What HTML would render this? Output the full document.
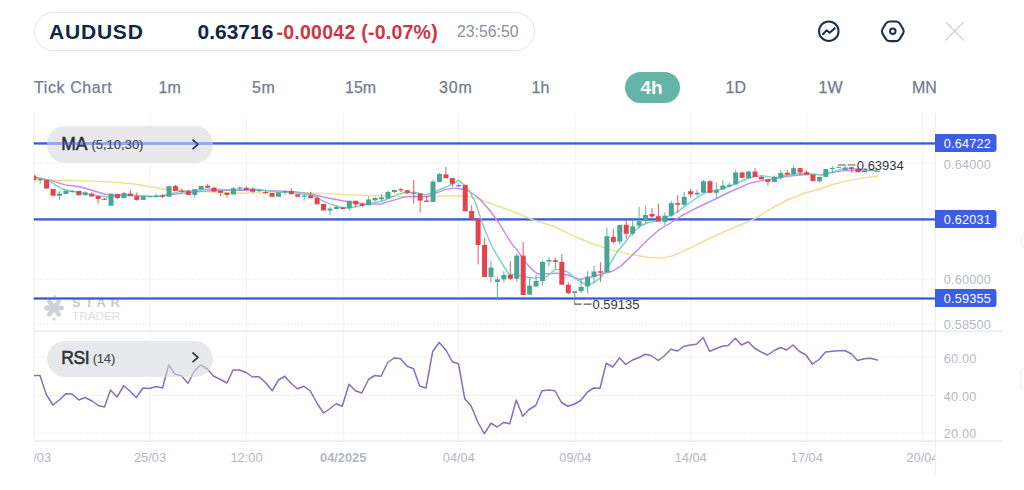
<!DOCTYPE html>
<html><head><meta charset="utf-8">
<style>
html,body{margin:0;padding:0;background:#fff;}
body{width:1024px;height:490px;position:relative;overflow:hidden;font-family:"Liberation Sans",sans-serif;}
.abs{position:absolute;white-space:nowrap;}
.pill{position:absolute;left:33.5px;top:12px;width:499px;height:37px;border:1px solid #e4e6ea;border-radius:20px;box-sizing:content-box;}
.tf{position:absolute;top:79px;font-size:16px;color:#747b8a;line-height:18px;-webkit-text-stroke:0.25px #747b8a;}
.ind{position:absolute;left:46.75px;width:166.25px;height:36.25px;border-radius:18px;background:#e8e9ec;}
.ind .t{position:absolute;left:14.5px;top:7.3px;font-size:17.5px;font-weight:normal;-webkit-text-stroke:0.55px #2f3135;color:#2f3135;line-height:20px;}
.ind .t span{font-size:13px;font-weight:normal;color:#45484d;-webkit-text-stroke:0.15px #45484d;position:relative;top:-0.6px;}
</style></head><body>
<div class="pill"></div>
<div class="abs" style="left:49px;top:20px;font-size:21px;font-weight:bold;color:#16244a;line-height:24px;letter-spacing:0.8px">AUDUSD</div>
<div class="abs" style="left:197.5px;top:20px;font-size:21px;font-weight:bold;color:#16244a;line-height:24px;">0.63716</div>
<div class="abs" style="left:276.5px;top:20px;font-size:19.5px;font-weight:bold;color:#cf3545;line-height:24px;letter-spacing:0.25px">-0.00042 (-0.07%)</div>
<div class="abs" style="left:457px;top:21px;font-size:15.8px;color:#8b909a;line-height:22px;">23:56:50</div>

<svg class="abs" style="left:0;top:0" width="1024" height="60">
<circle cx="828.8" cy="31.15" r="9.75" fill="none" stroke="#1e2d4d" stroke-width="2"/>
<path d="M822.9 34.3 L826.6 30.4 L829.7 32.7 L834.8 28.3" fill="none" stroke="#1e2d4d" stroke-width="2" stroke-linecap="round" stroke-linejoin="round"/>
<path d="M882.44 33.36 Q881.20 31.30 882.44 29.24 L885.86 23.56 Q887.10 21.50 889.50 21.50 L896.10 21.50 Q898.50 21.50 899.74 23.56 L903.16 29.24 Q904.40 31.30 903.16 33.36 L899.74 39.04 Q898.50 41.10 896.10 41.10 L889.50 41.10 Q887.10 41.10 885.86 39.04 Z" fill="none" stroke="#1e2d4d" stroke-width="2.1" stroke-linejoin="round"/>
<circle cx="892.8" cy="31.25" r="2.75" fill="none" stroke="#1e2d4d" stroke-width="2"/>
<path d="M945.8 22.3 L963.5 40 M963.5 22.3 L945.8 40" stroke="#d2d5da" stroke-width="1.5" stroke-linecap="round"/>
</svg>

<div class="tf" style="left:34px;letter-spacing:0.6px">Tick Chart</div>
<div class="tf" style="left:158.5px">1m</div>
<div class="tf" style="left:252px;letter-spacing:0.5px">5m</div>
<div class="tf" style="left:345px">15m</div>
<div class="tf" style="left:439px;letter-spacing:0.8px">30m</div>
<div class="tf" style="left:531.5px">1h</div>
<div class="abs" style="left:624.7px;top:72px;width:55px;height:31px;border-radius:15.5px;background:#64b4a9;"></div>
<div class="tf" style="left:640.5px;color:#fff;-webkit-text-stroke:0;font-size:19px;font-weight:bold;top:78px;line-height:20px">4h</div>
<div class="tf" style="left:725.5px">1D</div>
<div class="tf" style="left:818.5px">1W</div>
<div class="tf" style="left:912px">MN</div>

<svg class="abs" style="left:0;top:0" width="1024" height="490">
<defs><clipPath id="cp"><rect x="34" y="113" width="901" height="218"/></clipPath><clipPath id="cr"><rect x="34" y="331" width="901" height="110"/></clipPath></defs>
<rect x="149.5" y="113" width="1" height="328" fill="#f2f3f5"/>
<rect x="246" y="113" width="1" height="328" fill="#f2f3f5"/>
<rect x="342.8" y="113" width="1" height="328" fill="#f2f3f5"/>
<rect x="458.2" y="113" width="1" height="328" fill="#f2f3f5"/>
<rect x="574.7" y="113" width="1" height="328" fill="#f2f3f5"/>
<rect x="690.4" y="113" width="1" height="328" fill="#f2f3f5"/>
<rect x="806.5" y="113" width="1" height="328" fill="#f2f3f5"/>
<rect x="922" y="113" width="1" height="328" fill="#f2f3f5"/>
<rect x="33.5" y="113" width="1" height="328" fill="#eceef1"/>
<rect x="935" y="113" width="1" height="361" fill="#eceef1"/>
<line x1="34" y1="163.1" x2="935" y2="163.1" stroke="#e3e6ea" stroke-width="1" stroke-dasharray="1.5,1.6"/>
<line x1="34" y1="279.1" x2="935" y2="279.1" stroke="#e3e6ea" stroke-width="1" stroke-dasharray="1.5,1.6"/>
<line x1="34" y1="324" x2="935" y2="324" stroke="#e3e6ea" stroke-width="1" stroke-dasharray="1.5,1.6"/>
<line x1="34" y1="357" x2="935" y2="357" stroke="#e3e6ea" stroke-width="1" stroke-dasharray="1.5,1.6"/>
<line x1="34" y1="395.5" x2="935" y2="395.5" stroke="#e3e6ea" stroke-width="1" stroke-dasharray="1.5,1.6"/>
<line x1="34" y1="433" x2="935" y2="433" stroke="#e3e6ea" stroke-width="1" stroke-dasharray="1.5,1.6"/>
<rect x="34" y="330.5" width="968" height="1.2" fill="#e3e5e9"/>
<rect x="34" y="440.5" width="968" height="1.2" fill="#e3e5e9"/>
<g fill="#cfd3d9">
<g transform="translate(54,308)">
<rect x="-2.3" y="-10.2" width="4.6" height="20.4" rx="2.3" transform="rotate(36)"/>
<rect x="-2.3" y="-10.2" width="4.6" height="20.4" rx="2.3" transform="rotate(-36)"/>
<rect x="-10" y="-2.4" width="20" height="4.8" rx="2.4"/>
<circle cx="0.5" cy="-11.5" r="1.4"/><circle cx="0" cy="11" r="1.6"/>
</g></g>
<text x="72" y="307" font-family="Liberation Sans" font-weight="bold" font-size="12.8" letter-spacing="4.6" fill="#c6cad1">STAR</text>
<text x="72" y="320" font-family="Liberation Sans" font-size="11.7" letter-spacing="0.05" fill="#dcdfe4">TRADER</text>
<rect x="33.75" y="142.3" width="902" height="2.3" fill="#3a5ad9"/>
<rect x="33.75" y="218.25" width="902" height="2.3" fill="#3a5ad9"/>
<rect x="33.75" y="297.35" width="902" height="2.3" fill="#3a5ad9"/>
<g clip-path="url(#cp)">
<polyline fill="none" stroke="#eee08e" stroke-width="1.45" stroke-linejoin="round" stroke-linecap="round"  points="33.75,180.5 48.75,180.5 67.5,180.25 92.5,181.1 117.5,182.4 136.25,184.25 154,187.4 164,189 179,190.25 204,191.5 229,192.75 241.5,193.25 260.25,192.75 280,191.5 303,192.75 328,193.6 353,194.9 378,195.75 402,196.5 427,196.9 439.5,196.25 458.25,195.6 470.75,196.9 483.25,200.6 502,207.5 518,213.5 535,220.6 553.75,226.25 572.5,235.6 592.5,243.75 611.25,250 630,254.4 648.75,257.5 661.25,258.1 673.75,255.6 692.5,246.9 706.25,240 728,230 752.5,220 768.75,210 787.5,199.75 806.25,192.75 816.4,190 832.8,184.5 849.2,180.4 865.6,177.6 877.7,176.3"/>
<polyline fill="none" stroke="#c689ee" stroke-width="1.45" stroke-linejoin="round" stroke-linecap="round"  points="33.75,177 36.25,177.4 48.75,179.9 65,184.9 80,186.75 92.5,190.5 105,194.25 111.25,194.9 130,194.9 156,196.6 179,193.6 204,191.1 229,190.25 254,190.25 282,191.1 290.5,191.5 309.25,193.6 328,198 346.75,201.5 365.5,204 380.5,204 390.5,201.1 404,197.1 414.5,196.25 427,196.9 435.75,193.1 445.75,189.4 455.75,188.1 462,189 469.5,191.25 479.5,198.75 489.5,210 495.75,218.75 498.75,222.5 506.25,235 511.25,243.1 517.5,250.6 525,261.8 531.25,268.75 537.5,273.75 547.5,273.75 557.5,273.1 567.5,275 580,279.4 592.5,276.9 605,273.1 612.5,271.25 621.25,265.6 632.5,255 640,247.5 647.5,240 658.75,230 671.25,222.5 681.25,216 693.75,209.4 703.75,204.5 716,198.75 731.25,191.25 750,183.1 762.5,180.6 775,178.75 787.5,176.25 800,175 812.5,174.4 821.9,174.6 832.8,172.4 843.8,170.6 860.2,170.2 876.6,170.6"/>
<polyline fill="none" stroke="#74d5c8" stroke-width="1.45" stroke-linejoin="round" stroke-linecap="round"  points="33.75,177.5 36.25,178 48.75,180.5 61.25,188.6 72.5,191.5 86.25,193.6 98.75,195.75 107.5,197 117.5,196.1 130,195.25 142.5,196.1 156,196.5 166.5,194.9 179,191.75 195.25,190.5 207.75,189 222.75,189.5 235.25,189.9 254,189 266.5,190.5 280,192 296.75,193 313,195.5 325.5,202.4 338,206.75 348,208 359.25,206.1 369.25,203.6 384.25,200.5 396.75,194.9 404,192.75 414.5,192.25 425.75,195 435.75,191.25 446.9,186.6 455.9,182.1 458.4,180.1 462.8,183.6 469.3,191.2 475.6,203 480.75,218.75 485,230 491.25,245 497.5,256.25 503.75,266.25 509,274.5 515,274.4 527.5,277.25 535,278.1 541.25,276.9 547.5,276.25 555,269.4 560,269.75 567.5,271.9 576.25,279.4 587.5,285.6 595,281.9 601.9,276.25 610,263.75 617.5,251.25 625,242.5 632.5,232.5 640,226.25 648.75,222.25 656.25,221.25 667.5,216.9 677.5,211.9 690,202.5 700,195.6 707,192.2 718.75,190 731.25,185.6 743.75,180 753.75,176.9 761.25,175.6 770,176.9 777.5,177.5 787.5,175 795,174 807.5,173.5 818.75,174.6 822,175.2 830.6,172.4 841.6,169.1 852.5,168.6 865.6,169.5 876.6,170.2"/>
<g><rect x="33.2" y="173.6" width="1.1" height="10" fill="#e2434f" fill-opacity="0.8"/><rect x="31.25" y="175.5" width="5" height="4.4" fill="#e2434f"/>
<rect x="39.64" y="177.4" width="1.1" height="6.2" fill="#4aa597" fill-opacity="0.8"/><rect x="37.69" y="179" width="5" height="1" fill="#4aa597"/>
<rect x="44.13" y="179.9" width="5" height="8.7" fill="#e2434f"/>
<rect x="50.57" y="189" width="5" height="6.75" fill="#e2434f"/>
<rect x="58.96" y="191.1" width="1.1" height="8.8" fill="#4aa597" fill-opacity="0.8"/><rect x="57.01" y="193.6" width="5" height="2.15" fill="#4aa597"/>
<rect x="63.45" y="190.5" width="5" height="3.5" fill="#4aa597"/>
<rect x="71.84" y="189.9" width="1.1" height="2.5" fill="#4aa597" fill-opacity="0.8"/><rect x="69.89" y="190.9" width="5" height="1.1" fill="#4aa597"/>
<rect x="76.33" y="190.9" width="5" height="4.35" fill="#e2434f"/>
<rect x="84.72" y="191.1" width="1.1" height="4.15" fill="#4aa597" fill-opacity="0.8"/><rect x="82.77" y="192.4" width="5" height="2.85" fill="#4aa597"/>
<rect x="91.16" y="192.4" width="1.1" height="4.1" fill="#e2434f" fill-opacity="0.8"/><rect x="89.21" y="193.6" width="5" height="2.9" fill="#e2434f"/>
<rect x="97.6" y="196.1" width="1.1" height="7.5" fill="#e2434f" fill-opacity="0.8"/><rect x="95.65" y="196.1" width="5" height="2.9" fill="#e2434f"/>
<rect x="104.04" y="198" width="1.1" height="1.9" fill="#e2434f" fill-opacity="0.8"/><rect x="102.09" y="198.75" width="5" height="1" fill="#e2434f"/>
<rect x="108.53" y="193.6" width="5" height="12.15" fill="#4aa597"/>
<rect x="116.92" y="194" width="1.1" height="5" fill="#e2434f" fill-opacity="0.8"/><rect x="114.97" y="194" width="5" height="4" fill="#e2434f"/>
<rect x="123.36" y="192" width="1.1" height="6" fill="#4aa597" fill-opacity="0.8"/><rect x="121.41" y="193" width="5" height="5" fill="#4aa597"/>
<rect x="129.8" y="190.25" width="1.1" height="5.85" fill="#e2434f" fill-opacity="0.8"/><rect x="127.85" y="193.6" width="5" height="2.5" fill="#e2434f"/>
<rect x="136.24" y="192.4" width="1.1" height="8.35" fill="#e2434f" fill-opacity="0.8"/><rect x="134.29" y="196.1" width="5" height="3.8" fill="#e2434f"/>
<rect x="140.73" y="196.1" width="5" height="3.8" fill="#4aa597"/>
<rect x="147.17" y="196.25" width="5" height="1" fill="#4aa597"/>
<rect x="155.56" y="193.6" width="1.1" height="3.4" fill="#4aa597" fill-opacity="0.8"/><rect x="153.61" y="195.75" width="5" height="1.25" fill="#4aa597"/>
<rect x="162" y="194.25" width="1.1" height="3.75" fill="#e2434f" fill-opacity="0.8"/><rect x="160.05" y="195.5" width="5" height="1.25" fill="#e2434f"/>
<rect x="166.49" y="186.1" width="5" height="10.65" fill="#4aa597"/>
<rect x="174.88" y="184.9" width="1.1" height="5.85" fill="#e2434f" fill-opacity="0.8"/><rect x="172.93" y="186.1" width="5" height="4.65" fill="#e2434f"/>
<rect x="181.32" y="188.6" width="1.1" height="4.15" fill="#e2434f" fill-opacity="0.8"/><rect x="179.37" y="190.5" width="5" height="1.25" fill="#e2434f"/>
<rect x="187.76" y="189.5" width="1.1" height="5.4" fill="#e2434f" fill-opacity="0.8"/><rect x="185.81" y="191.1" width="5" height="3.8" fill="#e2434f"/>
<rect x="194.2" y="189.25" width="1.1" height="8.5" fill="#4aa597" fill-opacity="0.8"/><rect x="192.25" y="189.25" width="5" height="5.65" fill="#4aa597"/>
<rect x="198.69" y="185.9" width="5" height="3.6" fill="#4aa597"/>
<rect x="207.08" y="183.6" width="1.1" height="4.15" fill="#e2434f" fill-opacity="0.8"/><rect x="205.13" y="185.75" width="5" height="2" fill="#e2434f"/>
<rect x="213.52" y="186.75" width="1.1" height="4.75" fill="#e2434f" fill-opacity="0.8"/><rect x="211.57" y="187.75" width="5" height="3.75" fill="#e2434f"/>
<rect x="219.96" y="190.75" width="1.1" height="5.35" fill="#e2434f" fill-opacity="0.8"/><rect x="218.01" y="190.75" width="5" height="2" fill="#e2434f"/>
<rect x="226.4" y="192.75" width="1.1" height="5" fill="#e2434f" fill-opacity="0.8"/><rect x="224.45" y="192.75" width="5" height="2.15" fill="#e2434f"/>
<rect x="232.84" y="186.75" width="1.1" height="7.75" fill="#4aa597" fill-opacity="0.8"/><rect x="230.89" y="188.25" width="5" height="6.25" fill="#4aa597"/>
<rect x="239.28" y="186.5" width="1.1" height="4.6" fill="#4aa597" fill-opacity="0.8"/><rect x="237.33" y="187.4" width="5" height="1.2" fill="#4aa597"/>
<rect x="245.72" y="186.5" width="1.1" height="3.4" fill="#e2434f" fill-opacity="0.8"/><rect x="243.77" y="187.75" width="5" height="2.15" fill="#e2434f"/>
<rect x="252.16" y="187.4" width="1.1" height="5.35" fill="#e2434f" fill-opacity="0.8"/><rect x="250.21" y="189" width="5" height="2.75" fill="#e2434f"/>
<rect x="258.6" y="189.25" width="1.1" height="2.75" fill="#4aa597" fill-opacity="0.8"/><rect x="256.65" y="189.9" width="5" height="1.2" fill="#4aa597"/>
<rect x="265.04" y="190.75" width="1.1" height="3.5" fill="#e2434f" fill-opacity="0.8"/><rect x="263.09" y="192" width="5" height="1" fill="#e2434f"/>
<rect x="269.53" y="193" width="5" height="3.75" fill="#e2434f"/>
<rect x="275.97" y="192.4" width="5" height="4.35" fill="#4aa597"/>
<rect x="284.36" y="190.25" width="1.1" height="4.65" fill="#4aa597" fill-opacity="0.8"/><rect x="282.41" y="191.1" width="5" height="1.3" fill="#4aa597"/>
<rect x="290.8" y="188.25" width="1.1" height="6" fill="#e2434f" fill-opacity="0.8"/><rect x="288.85" y="191.1" width="5" height="3.15" fill="#e2434f"/>
<rect x="295.29" y="194.25" width="5" height="2.5" fill="#e2434f"/>
<rect x="303.68" y="194.9" width="1.1" height="5.6" fill="#4aa597" fill-opacity="0.8"/><rect x="301.73" y="195.5" width="5" height="1.25" fill="#4aa597"/>
<rect x="310.12" y="191.75" width="1.1" height="6.5" fill="#e2434f" fill-opacity="0.8"/><rect x="308.17" y="195.5" width="5" height="2.75" fill="#e2434f"/>
<rect x="316.56" y="195.5" width="1.1" height="8.75" fill="#e2434f" fill-opacity="0.8"/><rect x="314.61" y="198" width="5" height="6.25" fill="#e2434f"/>
<rect x="321.05" y="204" width="5" height="6.5" fill="#e2434f"/>
<rect x="329.44" y="206.75" width="1.1" height="8.15" fill="#4aa597" fill-opacity="0.8"/><rect x="327.49" y="208.6" width="5" height="1.9" fill="#4aa597"/>
<rect x="335.88" y="205.25" width="1.1" height="3.75" fill="#4aa597" fill-opacity="0.8"/><rect x="333.93" y="207" width="5" height="2" fill="#4aa597"/>
<rect x="342.32" y="207.4" width="1.1" height="2.1" fill="#e2434f" fill-opacity="0.8"/><rect x="340.37" y="207.4" width="5" height="1.6" fill="#e2434f"/>
<rect x="348.76" y="200.75" width="1.1" height="10" fill="#4aa597" fill-opacity="0.8"/><rect x="346.81" y="200.75" width="5" height="7.5" fill="#4aa597"/>
<rect x="355.2" y="200.75" width="1.1" height="6.65" fill="#e2434f" fill-opacity="0.8"/><rect x="353.25" y="200.75" width="5" height="3.75" fill="#e2434f"/>
<rect x="361.64" y="202.75" width="1.1" height="4.65" fill="#e2434f" fill-opacity="0.8"/><rect x="359.69" y="204" width="5" height="1.75" fill="#e2434f"/>
<rect x="368.08" y="196.5" width="1.1" height="8.75" fill="#4aa597" fill-opacity="0.8"/><rect x="366.13" y="199.5" width="5" height="5.75" fill="#4aa597"/>
<rect x="374.52" y="196.75" width="1.1" height="5" fill="#4aa597" fill-opacity="0.8"/><rect x="372.57" y="198" width="5" height="2.25" fill="#4aa597"/>
<rect x="380.96" y="194" width="1.1" height="7.1" fill="#4aa597" fill-opacity="0.8"/><rect x="379.01" y="197.4" width="5" height="1.85" fill="#4aa597"/>
<rect x="387.4" y="190.5" width="1.1" height="8.1" fill="#4aa597" fill-opacity="0.8"/><rect x="385.45" y="192" width="5" height="6.6" fill="#4aa597"/>
<rect x="393.84" y="189.9" width="1.1" height="3.35" fill="#4aa597" fill-opacity="0.8"/><rect x="391.89" y="189.9" width="5" height="2.1" fill="#4aa597"/>
<rect x="400.28" y="187.75" width="1.1" height="4.25" fill="#e2434f" fill-opacity="0.8"/><rect x="398.33" y="189.25" width="5" height="1.25" fill="#e2434f"/>
<rect x="406.72" y="190.25" width="1.1" height="3.5" fill="#e2434f" fill-opacity="0.8"/><rect x="404.77" y="190.25" width="5" height="2.85" fill="#e2434f"/>
<rect x="413.16" y="180" width="1.1" height="23.75" fill="#e2434f" fill-opacity="0.8"/><rect x="411.21" y="192.75" width="5" height="1" fill="#e2434f"/>
<rect x="419.6" y="193.5" width="1.1" height="19" fill="#e2434f" fill-opacity="0.8"/><rect x="417.65" y="193.5" width="5" height="7.1" fill="#e2434f"/>
<rect x="426.04" y="195.6" width="1.1" height="6.3" fill="#e2434f" fill-opacity="0.8"/><rect x="424.09" y="200.6" width="5" height="1.3" fill="#e2434f"/>
<rect x="432.48" y="180" width="1.1" height="21.9" fill="#4aa597" fill-opacity="0.8"/><rect x="430.53" y="181.5" width="5" height="20.4" fill="#4aa597"/>
<rect x="438.92" y="173.1" width="1.1" height="9.5" fill="#4aa597" fill-opacity="0.8"/><rect x="436.97" y="174" width="5" height="7.9" fill="#4aa597"/>
<rect x="445.36" y="166.9" width="1.1" height="11.6" fill="#e2434f" fill-opacity="0.8"/><rect x="443.41" y="174.4" width="5" height="3.7" fill="#e2434f"/>
<rect x="451.8" y="178.1" width="1.1" height="8.8" fill="#e2434f" fill-opacity="0.8"/><rect x="449.85" y="178.1" width="5" height="5.65" fill="#e2434f"/>
<rect x="458.24" y="183.1" width="1.1" height="3.4" fill="#4aa597" fill-opacity="0.8"/><rect x="456.29" y="185" width="5" height="1.5" fill="#4aa597"/>
<rect x="462.73" y="184.75" width="5" height="26.5" fill="#e2434f"/>
<rect x="471.12" y="205.25" width="1.1" height="13.5" fill="#e2434f" fill-opacity="0.8"/><rect x="469.17" y="211" width="5" height="7.75" fill="#e2434f"/>
<rect x="477.56" y="218.75" width="1.1" height="45.65" fill="#e2434f" fill-opacity="0.8"/><rect x="475.61" y="218.75" width="5" height="26.25" fill="#e2434f"/>
<rect x="484" y="238.1" width="1.1" height="38.8" fill="#e2434f" fill-opacity="0.8"/><rect x="482.05" y="245" width="5" height="31.9" fill="#e2434f"/>
<rect x="490.44" y="260.6" width="1.1" height="21.9" fill="#4aa597" fill-opacity="0.8"/><rect x="488.49" y="267.5" width="5" height="9.4" fill="#4aa597"/>
<rect x="496.88" y="276.9" width="1.1" height="21.85" fill="#4aa597" fill-opacity="0.8"/><rect x="494.93" y="279.4" width="5" height="2.5" fill="#4aa597"/>
<rect x="503.32" y="271.25" width="1.1" height="11.25" fill="#4aa597" fill-opacity="0.8"/><rect x="501.37" y="275" width="5" height="4.4" fill="#4aa597"/>
<rect x="509.76" y="261.25" width="1.1" height="18.75" fill="#e2434f" fill-opacity="0.8"/><rect x="507.81" y="275" width="5" height="3.75" fill="#e2434f"/>
<rect x="516.2" y="253.1" width="1.1" height="28.8" fill="#4aa597" fill-opacity="0.8"/><rect x="514.25" y="255.6" width="5" height="23.15" fill="#4aa597"/>
<rect x="522.64" y="241.9" width="1.1" height="53.1" fill="#e2434f" fill-opacity="0.8"/><rect x="520.69" y="255.6" width="5" height="39.4" fill="#e2434f"/>
<rect x="529.08" y="277.5" width="1.1" height="17.25" fill="#4aa597" fill-opacity="0.8"/><rect x="527.13" y="285.6" width="5" height="9.15" fill="#4aa597"/>
<rect x="535.52" y="274.4" width="1.1" height="12.1" fill="#4aa597" fill-opacity="0.8"/><rect x="533.57" y="281" width="5" height="5.5" fill="#4aa597"/>
<rect x="541.96" y="260.6" width="1.1" height="25" fill="#4aa597" fill-opacity="0.8"/><rect x="540.01" y="261.9" width="5" height="19.1" fill="#4aa597"/>
<rect x="548.4" y="257.25" width="1.1" height="9" fill="#4aa597" fill-opacity="0.8"/><rect x="546.45" y="260" width="5" height="1.5" fill="#4aa597"/>
<rect x="554.84" y="258.1" width="1.1" height="10.65" fill="#e2434f" fill-opacity="0.8"/><rect x="552.89" y="260.25" width="5" height="1.65" fill="#e2434f"/>
<rect x="561.28" y="254" width="1.1" height="30.75" fill="#e2434f" fill-opacity="0.8"/><rect x="559.33" y="261.9" width="5" height="22.85" fill="#e2434f"/>
<rect x="567.72" y="281.9" width="1.1" height="12.5" fill="#e2434f" fill-opacity="0.8"/><rect x="565.77" y="284.75" width="5" height="8.35" fill="#e2434f"/>
<rect x="574.16" y="291.25" width="1.1" height="13.15" fill="#4aa597" fill-opacity="0.8"/><rect x="572.21" y="291.25" width="5" height="1.85" fill="#4aa597"/>
<rect x="580.6" y="278.75" width="1.1" height="14.35" fill="#4aa597" fill-opacity="0.8"/><rect x="578.65" y="286.9" width="5" height="4.35" fill="#4aa597"/>
<rect x="587.04" y="271.25" width="1.1" height="22.25" fill="#4aa597" fill-opacity="0.8"/><rect x="585.09" y="276.6" width="5" height="9.9" fill="#4aa597"/>
<rect x="593.48" y="265.6" width="1.1" height="17.5" fill="#4aa597" fill-opacity="0.8"/><rect x="591.53" y="271.5" width="5" height="5.4" fill="#4aa597"/>
<rect x="599.92" y="262.25" width="1.1" height="19.65" fill="#e2434f" fill-opacity="0.8"/><rect x="597.97" y="271.25" width="5" height="1.5" fill="#e2434f"/>
<rect x="606.36" y="227.5" width="1.1" height="44.75" fill="#4aa597" fill-opacity="0.8"/><rect x="604.41" y="236.25" width="5" height="36" fill="#4aa597"/>
<rect x="612.8" y="229" width="1.1" height="14.75" fill="#e2434f" fill-opacity="0.8"/><rect x="610.85" y="236.9" width="5" height="5" fill="#e2434f"/>
<rect x="619.24" y="225" width="1.1" height="19.4" fill="#4aa597" fill-opacity="0.8"/><rect x="617.29" y="225" width="5" height="16.5" fill="#4aa597"/>
<rect x="625.68" y="220" width="1.1" height="18.75" fill="#e2434f" fill-opacity="0.8"/><rect x="623.73" y="224.75" width="5" height="9" fill="#e2434f"/>
<rect x="632.12" y="217.75" width="1.1" height="17.85" fill="#4aa597" fill-opacity="0.8"/><rect x="630.17" y="226.25" width="5" height="7.5" fill="#4aa597"/>
<rect x="638.56" y="206.9" width="1.1" height="21.85" fill="#4aa597" fill-opacity="0.8"/><rect x="636.61" y="221.25" width="5" height="4.35" fill="#4aa597"/>
<rect x="645" y="206.25" width="1.1" height="17.5" fill="#4aa597" fill-opacity="0.8"/><rect x="643.05" y="215" width="5" height="6" fill="#4aa597"/>
<rect x="651.44" y="208.1" width="1.1" height="10.4" fill="#e2434f" fill-opacity="0.8"/><rect x="649.49" y="214" width="5" height="2.5" fill="#e2434f"/>
<rect x="657.88" y="203.5" width="1.1" height="18" fill="#e2434f" fill-opacity="0.8"/><rect x="655.93" y="216.25" width="5" height="5.25" fill="#e2434f"/>
<rect x="664.32" y="212.5" width="1.1" height="12.75" fill="#4aa597" fill-opacity="0.8"/><rect x="662.37" y="215.6" width="5" height="6.3" fill="#4aa597"/>
<rect x="670.76" y="201" width="1.1" height="15.9" fill="#4aa597" fill-opacity="0.8"/><rect x="668.81" y="203.1" width="5" height="12.5" fill="#4aa597"/>
<rect x="677.2" y="195.25" width="1.1" height="17.85" fill="#e2434f" fill-opacity="0.8"/><rect x="675.25" y="203.1" width="5" height="1.65" fill="#e2434f"/>
<rect x="683.64" y="191.9" width="1.1" height="14.35" fill="#4aa597" fill-opacity="0.8"/><rect x="681.69" y="196.9" width="5" height="7.85" fill="#4aa597"/>
<rect x="690.08" y="188.75" width="1.1" height="8.75" fill="#e2434f" fill-opacity="0.8"/><rect x="688.13" y="191.25" width="5" height="3.15" fill="#e2434f"/>
<rect x="696.52" y="189.5" width="1.1" height="6.75" fill="#4aa597" fill-opacity="0.8"/><rect x="694.57" y="192.75" width="5" height="1.65" fill="#4aa597"/>
<rect x="702.96" y="180" width="1.1" height="12.75" fill="#4aa597" fill-opacity="0.8"/><rect x="701.01" y="181.25" width="5" height="11.5" fill="#4aa597"/>
<rect x="709.4" y="180" width="1.1" height="12.75" fill="#e2434f" fill-opacity="0.8"/><rect x="707.45" y="181.25" width="5" height="11.5" fill="#e2434f"/>
<rect x="715.84" y="182.25" width="1.1" height="15.85" fill="#4aa597" fill-opacity="0.8"/><rect x="713.89" y="189.75" width="5" height="3" fill="#4aa597"/>
<rect x="722.28" y="180.25" width="1.1" height="9.15" fill="#4aa597" fill-opacity="0.8"/><rect x="720.33" y="185.6" width="5" height="3.8" fill="#4aa597"/>
<rect x="728.72" y="182.5" width="1.1" height="5" fill="#4aa597" fill-opacity="0.8"/><rect x="726.77" y="184.75" width="5" height="1.75" fill="#4aa597"/>
<rect x="735.16" y="169.75" width="1.1" height="14.65" fill="#4aa597" fill-opacity="0.8"/><rect x="733.21" y="172.5" width="5" height="11.9" fill="#4aa597"/>
<rect x="741.6" y="171.5" width="1.1" height="7" fill="#e2434f" fill-opacity="0.8"/><rect x="739.65" y="172.5" width="5" height="5.25" fill="#e2434f"/>
<rect x="748.04" y="170.6" width="1.1" height="7.5" fill="#4aa597" fill-opacity="0.8"/><rect x="746.09" y="171.5" width="5" height="6.6" fill="#4aa597"/>
<rect x="754.48" y="168.1" width="1.1" height="8.8" fill="#e2434f" fill-opacity="0.8"/><rect x="752.53" y="171.5" width="5" height="5.4" fill="#e2434f"/>
<rect x="760.92" y="175.6" width="1.1" height="3.8" fill="#e2434f" fill-opacity="0.8"/><rect x="758.97" y="176.9" width="5" height="2.5" fill="#e2434f"/>
<rect x="767.36" y="178.5" width="1.1" height="7.1" fill="#e2434f" fill-opacity="0.8"/><rect x="765.41" y="179.4" width="5" height="2.5" fill="#e2434f"/>
<rect x="773.8" y="175.6" width="1.1" height="6.3" fill="#4aa597" fill-opacity="0.8"/><rect x="771.85" y="176.9" width="5" height="5" fill="#4aa597"/>
<rect x="780.24" y="170.25" width="1.1" height="9.5" fill="#4aa597" fill-opacity="0.8"/><rect x="778.29" y="173.1" width="5" height="4.4" fill="#4aa597"/>
<rect x="786.68" y="169.75" width="1.1" height="5" fill="#e2434f" fill-opacity="0.8"/><rect x="784.73" y="172.75" width="5" height="2" fill="#e2434f"/>
<rect x="793.12" y="166" width="1.1" height="8.4" fill="#4aa597" fill-opacity="0.8"/><rect x="791.17" y="168.1" width="5" height="6.3" fill="#4aa597"/>
<rect x="799.56" y="168.1" width="1.1" height="7.15" fill="#e2434f" fill-opacity="0.8"/><rect x="797.61" y="168.1" width="5" height="4.4" fill="#e2434f"/>
<rect x="806" y="170.25" width="1.1" height="4.5" fill="#e2434f" fill-opacity="0.8"/><rect x="804.05" y="172.25" width="5" height="2.5" fill="#e2434f"/>
<rect x="810.49" y="174.75" width="5" height="6.5" fill="#e2434f"/>
<rect x="818.88" y="176.9" width="1.1" height="5.6" fill="#4aa597" fill-opacity="0.8"/><rect x="816.93" y="176.9" width="5" height="4.35" fill="#4aa597"/>
<rect x="823.37" y="169" width="5" height="7.9" fill="#4aa597"/>
<rect x="831.76" y="166.1" width="1.1" height="6.9" fill="#4aa597" fill-opacity="0.8"/><rect x="829.81" y="168" width="5" height="1" fill="#4aa597"/>
<rect x="836.25" y="166.8" width="5" height="1" fill="#4aa597"/>
<rect x="844.64" y="165" width="1.1" height="4.8" fill="#4aa597" fill-opacity="0.8"/><rect x="842.69" y="167.5" width="5" height="2.3" fill="#4aa597"/>
<rect x="851.08" y="167.2" width="1.1" height="5.4" fill="#e2434f" fill-opacity="0.8"/><rect x="849.13" y="167.2" width="5" height="1.6" fill="#e2434f"/>
<rect x="855.57" y="168.8" width="5" height="3.5" fill="#e2434f"/>
<rect x="863.96" y="168.5" width="1.1" height="3.8" fill="#4aa597" fill-opacity="0.8"/><rect x="862.01" y="171" width="5" height="1.3" fill="#4aa597"/>
<rect x="868.45" y="169.8" width="5" height="1" fill="#4aa597"/>
<rect x="874.89" y="170.8" width="5" height="1" fill="#e2434f"/></g>
</g>
<path d="M838 165 H845.3 M847.6 165 H855.5" stroke="#55585d" stroke-width="1.2" fill="none"/>
<text x="856.8" y="169.5" font-family="Liberation Sans" font-size="13" fill="#33363b">0.63934</text>
<path d="M574.3 304.2 H581.4 M583.6 304.2 H591.5" stroke="#55585d" stroke-width="1.2" fill="none"/>
<text x="592.5" y="309" font-family="Liberation Sans" font-size="13" fill="#33363b">0.59135</text>
<g clip-path="url(#cr)"><polyline fill="none" stroke="#896eba" stroke-width="1.5" stroke-linejoin="round" stroke-linecap="round"  points="33.75,375.5 40,375.5 46.25,394.5 53,405 60,399.5 65.75,393.75 72,394 78.75,400 85,397.5 92.5,401.25 98.75,405.75 104.5,407 110.5,390 117,397 123.75,385.75 130,391.25 136.25,397.5 143,388 149.5,388.5 156.25,386.5 162.5,388 168.75,365 175,374.25 181.25,375.75 188,383.25 194.25,371.25 200.5,365 207,368.75 213.75,376.25 220,379.25 227,383 233,370 239.5,370 246.25,372.5 252.5,377 258.75,376.5 265,382 272.25,390.75 278.5,380 284.75,376.25 291,383.25 297.25,388.75 304,386.25 310.5,391.25 317.25,403.75 323.5,413 329.75,408.75 336,403.75 342.25,406.25 349,384.25 355.5,390.75 361.75,393 368.5,379.5 374.75,375.5 381,376.25 387.75,362.5 394,358 400.5,358.75 407.25,366.25 413.5,368.75 419.75,386.25 426,388 432.75,351.25 439.25,342.5 446,350 452.25,361.75 458.5,363.75 464.75,398.75 471,405.75 478,422.5 484.25,433.75 491,423.25 497.25,427 503.5,422.5 509.75,423.75 516.25,400 522.75,416.25 529,409.5 535.75,405.5 542,390.75 548.75,390 555,390.75 561.5,402.5 567.75,406.25 574,404.25 580.75,400.5 587.5,392 593.75,388 600,388.25 606.25,363.25 612.75,367 619.5,358 625.75,364.5 632.5,360 639,357.5 645.25,354.25 651.5,355.75 658.25,360.5 664.5,355.75 670.75,349.25 677.5,351 684,346.25 690.25,345 696.5,344.25 703.25,337.5 709.5,351.25 715.75,348.75 722,346.25 728.25,345.5 735.25,338.25 741.5,345 748.25,341.75 754.5,348.25 760.75,351.75 767.5,355 774.25,350.5 780.5,347.5 786.75,350 793,345 799.25,351.25 806,355 812.5,364.25 819.25,359.25 825.5,352 832.25,351.25 838.5,350.75 844.75,350.5 851.25,353.75 857.5,360.5 864.25,358.75 870.5,358.25 877.25,360"/></g>
<path d="M935 134.05 H993.5 a3 3 0 0 1 3 3 V149.05 a3 3 0 0 1 -3 3 H935 Z" fill="#3c5ee2"/>
<text x="943.7" y="147.85" font-family="Liberation Sans" font-size="12.7" letter-spacing="0.2" fill="#ffffff">0.64722</text>
<path d="M935 210 H993.5 a3 3 0 0 1 3 3 V225 a3 3 0 0 1 -3 3 H935 Z" fill="#3c5ee2"/>
<text x="943.7" y="223.8" font-family="Liberation Sans" font-size="12.7" letter-spacing="0.2" fill="#ffffff">0.62031</text>
<path d="M935 289.1 H993.5 a3 3 0 0 1 3 3 V304.1 a3 3 0 0 1 -3 3 H935 Z" fill="#3c5ee2"/>
<text x="943.7" y="302.9" font-family="Liberation Sans" font-size="12.7" letter-spacing="0.2" fill="#ffffff">0.59355</text>
<text x="943.8" y="168.6" font-family="Liberation Sans" font-size="12.7" letter-spacing="0.2" fill="#b5b9c1">0.64000</text>
<text x="943.8" y="284" font-family="Liberation Sans" font-size="12.7" letter-spacing="0.2" fill="#b5b9c1">0.60000</text>
<text x="943.8" y="329.4" font-family="Liberation Sans" font-size="12.7" letter-spacing="0.2" fill="#b5b9c1">0.58500</text>
<text x="943.8" y="362.7" font-family="Liberation Sans" font-size="12.7" letter-spacing="0.2" fill="#b5b9c1">60.00</text>
<text x="943.8" y="400.7" font-family="Liberation Sans" font-size="12.7" letter-spacing="0.2" fill="#b5b9c1">40.00</text>
<text x="943.8" y="438.4" font-family="Liberation Sans" font-size="12.7" letter-spacing="0.2" fill="#b5b9c1">20.00</text>
<svg x="34" y="440" width="901" height="40" overflow="hidden">
<text x="1" y="22.3" text-anchor="middle" font-family="Liberation Sans" font-size="12.8"  fill="#b3b7bf">24/03</text>
<text x="116" y="22.3" text-anchor="middle" font-family="Liberation Sans" font-size="12.8"  fill="#b3b7bf">25/03</text>
<text x="212.5" y="22.3" text-anchor="middle" font-family="Liberation Sans" font-size="12.8"  fill="#b3b7bf">12:00</text>
<text x="309.2" y="22.3" text-anchor="middle" font-family="Liberation Sans" font-size="12.8" font-weight="bold" fill="#b3b7bf">04/2025</text>
<text x="424.8" y="22.3" text-anchor="middle" font-family="Liberation Sans" font-size="12.8"  fill="#b3b7bf">04/04</text>
<text x="541.3" y="22.3" text-anchor="middle" font-family="Liberation Sans" font-size="12.8"  fill="#b3b7bf">09/04</text>
<text x="656.7" y="22.3" text-anchor="middle" font-family="Liberation Sans" font-size="12.8"  fill="#b3b7bf">14/04</text>
<text x="772.8" y="22.3" text-anchor="middle" font-family="Liberation Sans" font-size="12.8"  fill="#b3b7bf">17/04</text>
<text x="888.5" y="22.3" text-anchor="middle" font-family="Liberation Sans" font-size="12.8"  fill="#b3b7bf">20/04</text>
</svg>
<rect x="1021" y="231.2" width="30" height="19.5" rx="9.5" fill="none" stroke="#eceef0" stroke-width="1"/>
<rect x="1020.8" y="369" width="20" height="20.8" rx="3" fill="none" stroke="#eceef0" stroke-width="1"/>
</svg>

<div class="ind" style="top:126.25px"><div class="t">MA <span>(5,10,30)</span></div>
<svg class="abs" style="left:143.5px;top:10.3px" width="12" height="14"><path d="M3 3 L8 7.3 L3 11.6" fill="none" stroke="#2a3550" stroke-width="1.7" stroke-linecap="round" stroke-linejoin="round"/></svg></div>
<div class="abs" style="left:46.75px;top:142.35px;width:166.25px;height:2.2px;background:rgba(58,90,217,0.45)"></div>
<div class="ind" style="top:340.5px"><div class="t" style="letter-spacing:-0.4px">RSI <span style="letter-spacing:-0.2px;margin-left:-1px">(14)</span></div>
<svg class="abs" style="left:143.5px;top:9px" width="12" height="14"><path d="M3 3 L8 7.3 L3 11.6" fill="none" stroke="#2a3550" stroke-width="1.7" stroke-linecap="round" stroke-linejoin="round"/></svg></div>
<svg class="abs" style="left:0;top:0" width="1024" height="490"><defs><clipPath id="pr"><rect x="46.75" y="340.5" width="166.25" height="36.25" rx="18"/></clipPath></defs><g clip-path="url(#pr)" opacity="0.5"><polyline fill="none" stroke="#896eba" stroke-width="1.5" stroke-linejoin="round" stroke-linecap="round"  points="33.75,375.5 40,375.5 46.25,394.5 53,405 60,399.5 65.75,393.75 72,394 78.75,400 85,397.5 92.5,401.25 98.75,405.75 104.5,407 110.5,390 117,397 123.75,385.75 130,391.25 136.25,397.5 143,388 149.5,388.5 156.25,386.5 162.5,388 168.75,365 175,374.25 181.25,375.75 188,383.25 194.25,371.25 200.5,365 207,368.75 213.75,376.25 220,379.25 227,383 233,370 239.5,370 246.25,372.5 252.5,377 258.75,376.5 265,382 272.25,390.75 278.5,380 284.75,376.25 291,383.25 297.25,388.75 304,386.25 310.5,391.25 317.25,403.75 323.5,413 329.75,408.75 336,403.75 342.25,406.25 349,384.25 355.5,390.75 361.75,393 368.5,379.5 374.75,375.5 381,376.25 387.75,362.5 394,358 400.5,358.75 407.25,366.25 413.5,368.75 419.75,386.25 426,388 432.75,351.25 439.25,342.5 446,350 452.25,361.75 458.5,363.75 464.75,398.75 471,405.75 478,422.5 484.25,433.75 491,423.25 497.25,427 503.5,422.5 509.75,423.75 516.25,400 522.75,416.25 529,409.5 535.75,405.5 542,390.75 548.75,390 555,390.75 561.5,402.5 567.75,406.25 574,404.25 580.75,400.5 587.5,392 593.75,388 600,388.25 606.25,363.25 612.75,367 619.5,358 625.75,364.5 632.5,360 639,357.5 645.25,354.25 651.5,355.75 658.25,360.5 664.5,355.75 670.75,349.25 677.5,351 684,346.25 690.25,345 696.5,344.25 703.25,337.5 709.5,351.25 715.75,348.75 722,346.25 728.25,345.5 735.25,338.25 741.5,345 748.25,341.75 754.5,348.25 760.75,351.75 767.5,355 774.25,350.5 780.5,347.5 786.75,350 793,345 799.25,351.25 806,355 812.5,364.25 819.25,359.25 825.5,352 832.25,351.25 838.5,350.75 844.75,350.5 851.25,353.75 857.5,360.5 864.25,358.75 870.5,358.25 877.25,360"/></g></svg>
</body></html>
